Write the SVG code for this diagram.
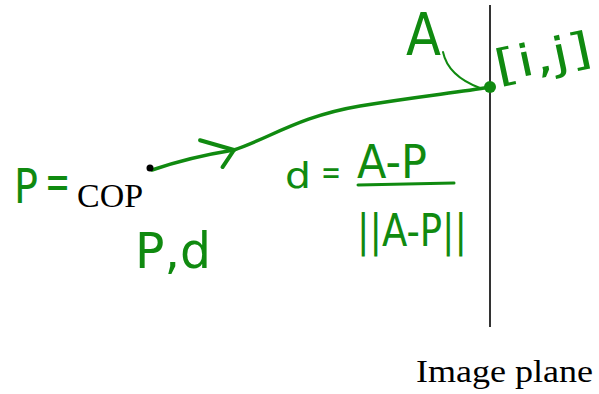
<svg xmlns="http://www.w3.org/2000/svg" width="599" height="394" viewBox="0 0 599 394">
<style>
.hw{fill:#108a10;font-family:"DejaVu Sans",sans-serif}
.ink{fill:none;stroke:#108a10;stroke-linecap:round;stroke-linejoin:round}
.serif{fill:#000;font-family:"Liberation Serif","Times New Roman",serif}
</style>
<defs>
<marker id="openArrow" viewBox="0 0 12 12" refX="11" refY="6" markerWidth="12" markerHeight="12" markerUnits="userSpaceOnUse" orient="auto" overflow="visible">
<path d="M-21,-9 L11,6 L-3,21" fill="none" stroke="#108a10" stroke-width="4" stroke-linecap="round" stroke-linejoin="round"/>
</marker>
</defs>
<rect width="599" height="394" fill="#fff"/>
<g id="image-plane">
<line x1="490" y1="5" x2="490" y2="327" stroke="#333" stroke-width="2"/>
<text class="serif" x="416" y="382" font-size="31" textLength="177" lengthAdjust="spacingAndGlyphs">Image plane</text>
</g>
<g id="connectors">
<path class="ink" d="M152,170 Q190,157 234,150" stroke-width="3.5" marker-end="url(#openArrow)"/>
<path class="ink" d="M234,150 C270,138 300,116 360,106 S455,93 490,87" stroke-width="3.5"/>
<path class="ink" d="M443,52 Q448,76 480,88" stroke-width="2"/>
</g>
<g id="cop">
<circle cx="150" cy="168" r="3.5" fill="#000"/>
<text class="serif" x="77" y="207" font-size="33" textLength="66" lengthAdjust="spacingAndGlyphs">COP</text>
<text class="hw" x="14" y="203" font-size="48" textLength="24" lengthAdjust="spacingAndGlyphs">P</text>
<text class="hw" x="0" y="0" font-size="30" transform="translate(45,198) scale(1,1.6)">=</text>
<text class="hw" x="135" y="268" font-size="50" textLength="76" lengthAdjust="spacingAndGlyphs">P,d</text>
</g>
<g id="point-a">
<circle cx="490" cy="87" r="6" fill="#108a10"/>
<text class="hw" x="406" y="55" font-size="58" textLength="35" lengthAdjust="spacingAndGlyphs">A</text>
<text class="hw" x="498" y="82" font-size="44" textLength="98" lengthAdjust="spacingAndGlyphs" transform="rotate(-12 498 82)">[i,j]</text>
</g>
<g id="direction">
<text class="hw" x="285" y="188" font-size="36" textLength="26" lengthAdjust="spacingAndGlyphs">d</text>
<text class="hw" x="321" y="184" font-size="34" textLength="20" lengthAdjust="spacingAndGlyphs">=</text>
<text class="hw" x="357" y="178" font-size="46" textLength="70" lengthAdjust="spacingAndGlyphs">A-P</text>
<line x1="358" y1="185" x2="454" y2="183" stroke="#108a10" stroke-width="3" stroke-linecap="round"/>
<text class="hw" x="357" y="246" font-size="44" textLength="110" lengthAdjust="spacingAndGlyphs">||A-P||</text>
</g>
</svg>
